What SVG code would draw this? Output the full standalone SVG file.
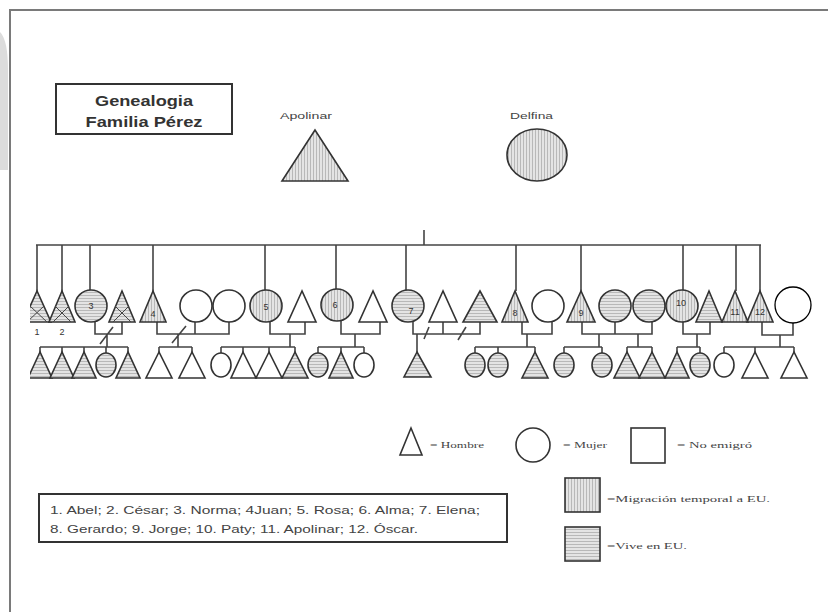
<svg xmlns="http://www.w3.org/2000/svg" width="828" height="612" viewBox="0 0 828 612">
<defs>
<pattern id="vh" width="3" height="3" patternUnits="userSpaceOnUse"><rect width="3" height="3" fill="#e4e4e4"/><line x1="1.5" y1="0" x2="1.5" y2="3" stroke="#9a9a9a" stroke-width="0.6"/></pattern>
<pattern id="hh" width="3" height="3" patternUnits="userSpaceOnUse"><rect width="3" height="3" fill="#e4e4e4"/><line x1="0" y1="1.5" x2="3" y2="1.5" stroke="#9a9a9a" stroke-width="0.6"/></pattern>
<clipPath id="clip"><rect x="30" y="230" width="798" height="170"/></clipPath>
<style>
.s{stroke:#333;stroke-width:1.6;}
.w{fill:#fff;}
.v{fill:url(#vh);}
.h{fill:url(#hh);}
.c{fill:none;stroke:#444;stroke-width:1.6;}
.in{fill:none;stroke:#444;stroke-width:1;}
.n{font-family:"Liberation Sans",Arial,sans-serif;font-size:9px;fill:#333;text-anchor:middle;}
.lab{font-family:"Liberation Sans",Arial,sans-serif;font-size:9px;fill:#444;}
.leg{font-family:"Liberation Serif","Times New Roman",serif;font-size:9px;fill:#444;}
.t{font-family:"Liberation Sans",Arial,sans-serif;font-size:14px;font-weight:bold;fill:#333;text-anchor:middle;}
.nm{font-family:"Liberation Sans",Arial,sans-serif;font-size:10.5px;fill:#444;}
</style>
</defs>
<rect width="828" height="612" fill="#fff"/>
<path d="M0,32 Q8,40 8,70 V170 H0 Z" fill="#dcdcdc"/>
<path d="M10,612 V10 H828" fill="none" stroke="#7a7a7a" stroke-width="2"/>

<g id="title">
<rect x="56" y="84" width="176" height="50" fill="#fff" stroke="#333" stroke-width="2"/>
<text class="t" x="144" y="106" textLength="98" lengthAdjust="spacingAndGlyphs">Genealogia</text>
<text class="t" x="144" y="127" textLength="117" lengthAdjust="spacingAndGlyphs">Familia Pérez</text>
</g>

<g id="apolinar">
<text class="lab" x="280" y="119" textLength="52" lengthAdjust="spacingAndGlyphs">Apolinar</text>
<polygon class="s v" points="315,130 282,181 348,181"/>
</g>
<g id="delfina">
<text class="lab" x="510" y="119" textLength="43" lengthAdjust="spacingAndGlyphs">Delfina</text>
<ellipse class="s v" cx="537" cy="155" rx="30" ry="26"/>
</g>

<g id="connectors" clip-path="url(#clip)">
<path class="c" d="M315,181 V226 H543 V181"/>
<path class="c" d="M424,226 V245"/>
<path class="c" d="M36,245 H761"/>
<path class="c" d="M37,245 V291 M62,245 V291 M90,245 V290 M153,245 V291 M265,245 V290 M336,245 V290 M406,245 V290 M516,245 V291 M581,245 V291 M683,245 V290 M736,245 V291 M760,245 V291"/>
<!-- family A -->
<path class="c" d="M95,321 V334 H122 V322 M107,334 V347 M40,347 H128 M40,347 V352 M62,347 V352 M84,347 V352 M106,347 V353 M128,347 V352 M113,327 L100,344"/>
<!-- family B -->
<path class="c" d="M157,322 V334 H229 V322 M195,322 V334 M178,334 V347 M159,347 H192 M159,347 V352 M192,347 V352 M186,326 L172,343"/>
<!-- family C -->
<path class="c" d="M270,321 V334 H305 V322 M290,334 V347 M221,347 H295 M221,347 V353 M243,347 V352 M269,347 V352 M295,347 V352"/>
<!-- family D -->
<path class="c" d="M341,321 V334 H380 V322 M355,334 V347 M318,347 H364 M318,347 V353 M341,347 V352 M364,347 V353"/>
<!-- family E -->
<path class="c" d="M413,321 V334 H480 V322 M443,322 V334 M417,334 V352 M429,327 L424,339 M466,327 L458,340"/>
<!-- family F -->
<path class="c" d="M522,322 V334 H552 V321 M527,334 V347 M475,347 H535 M475,347 V353 M498,347 V353 M535,347 V352"/>
<!-- family G -->
<path class="c" d="M582,322 V334 H652 V321 M615,322 V334 M599,334 V347 M564,347 H602 M564,347 V353 M602,347 V353 M638,334 V347 M627,347 H652 M627,347 V352 M652,347 V352"/>
<!-- family H -->
<path class="c" d="M683,322 V334 H710 V322 M697,334 V347 M677,347 H700 M677,347 V352 M700,347 V353"/>
<!-- family I -->
<path class="c" d="M762,322 V335 H793 V323 M780,335 V347 M724,347 H794 M724,347 V353 M755,347 V352 M794,347 V352"/>
</g>

<g clip-path="url(#clip)">
<g id="abel"><polygon class="s h" points="37,291 23,322 51,322"/><path class="in" d="M30,306 L47,322 M44,306 L27,322"/><text class="n" x="37" y="335">1</text></g>
<g id="cesar"><polygon class="s h" points="62,291 49,322 75,322"/><path class="in" d="M55,306 L71,322 M69,306 L53,322"/><text class="n" x="62" y="335">2</text></g>
<g id="norma"><circle class="s h" cx="91" cy="306" r="16"/><text class="n" x="91" y="309">3</text></g>
<g id="norma-esposo"><polygon class="s h" points="122,291 109,322 135,322"/><path class="in" d="M115,306 L131,322 M129,306 L113,322"/></g>
<g id="juan"><polygon class="s v" points="153,291 140,322 166,322"/><text class="n" x="153" y="317">4</text></g>
<g id="juan-esposa1"><circle class="s w" cx="196" cy="306" r="16"/></g>
<g id="juan-esposa2"><circle class="s w" cx="229" cy="306" r="16"/></g>
<g id="rosa"><circle class="s v" cx="266" cy="306" r="16"/><text class="n" x="266" y="310">5</text></g>
<g id="rosa-esposo"><polygon class="s w" points="302,291 288,322 316,322"/></g>
<g id="alma"><circle class="s v" cx="337" cy="305" r="16"/><text class="n" x="335" y="308">6</text></g>
<g id="alma-esposo"><polygon class="s w" points="373,291 359,322 387,322"/></g>
<g id="elena"><circle class="s h" cx="408" cy="306" r="16"/><text class="n" x="411" y="314">7</text></g>
<g id="elena-esposo1"><polygon class="s w" points="443,291 429,322 457,322"/></g>
<g id="elena-esposo2"><polygon class="s h" points="480,291 463,322 497,322"/></g>
<g id="gerardo"><polygon class="s v" points="515,291 502,322 528,322"/><text class="n" x="515" y="316">8</text></g>
<g id="gerardo-esposa"><circle class="s w" cx="548" cy="306" r="16"/></g>
<g id="jorge"><polygon class="s v" points="581,291 567,322 595,322"/><text class="n" x="581" y="316">9</text></g>
<g id="jorge-esposa1"><circle class="s h" cx="615" cy="306" r="16"/></g>
<g id="jorge-esposa2"><circle class="s h" cx="649" cy="306" r="16"/></g>
<g id="paty"><circle class="s v" cx="682" cy="306" r="16"/><text class="n" x="681" y="306">10</text></g>
<g id="paty-esposo"><polygon class="s h" points="709,291 696,322 722,322"/></g>
<g id="apolinar-hijo"><polygon class="s v" points="735,291 722,322 748,322"/><text class="n" x="735" y="315">11</text></g>
<g id="oscar"><polygon class="s v" points="760,291 747,322 773,322"/><text class="n" x="760" y="315">12</text></g>
<g id="oscar-esposa"><circle cx="793" cy="305" r="18" fill="#fff" stroke="#000" stroke-width="1.3"/></g>

<!-- third generation -->
<g id="nieto-a1"><polygon class="s h" points="40,352 28,378 52,378"/></g>
<g id="nieto-a2"><polygon class="s h" points="62,352 50,378 74,378"/></g>
<g id="nieto-a3"><polygon class="s h" points="84,352 72,378 96,378"/></g>
<g id="nieto-a4"><ellipse class="s h" cx="106" cy="365" rx="10" ry="12"/></g>
<g id="nieto-a5"><polygon class="s h" points="128,352 116,378 140,378"/></g>
<g id="nieto-b1"><polygon class="s w" points="159,352 146,378 172,378"/></g>
<g id="nieto-b2"><polygon class="s w" points="192,352 179,378 205,378"/></g>
<g id="nieto-c1"><ellipse class="s w" cx="221" cy="365" rx="10" ry="12"/></g>
<g id="nieto-c2"><polygon class="s w" points="243,352 231,378 256,378"/></g>
<g id="nieto-c3"><polygon class="s w" points="269,352 256,378 282,378"/></g>
<g id="nieto-c4"><polygon class="s h" points="295,352 282,378 308,378"/></g>
<g id="nieto-d1"><ellipse class="s h" cx="318" cy="365" rx="10" ry="12"/></g>
<g id="nieto-d2"><polygon class="s h" points="341,352 329,378 353,378"/></g>
<g id="nieto-d3"><ellipse class="s w" cx="364" cy="365" rx="10" ry="12"/></g>
<g id="nieto-e1"><polygon class="s h" points="417,352 404,377 431,377"/></g>
<g id="nieto-f1"><ellipse class="s h" cx="475" cy="365" rx="10" ry="12"/></g>
<g id="nieto-f2"><ellipse class="s h" cx="498" cy="365" rx="10" ry="12"/></g>
<g id="nieto-f3"><polygon class="s h" points="535,352 522,378 548,378"/></g>
<g id="nieto-g1"><ellipse class="s h" cx="564" cy="365" rx="10" ry="12"/></g>
<g id="nieto-g2"><ellipse class="s h" cx="602" cy="365" rx="10" ry="12"/></g>
<g id="nieto-g3"><polygon class="s h" points="627,352 614,378 640,378"/></g>
<g id="nieto-g4"><polygon class="s h" points="652,352 639,378 665,378"/></g>
<g id="nieto-h1"><polygon class="s h" points="677,352 665,378 689,378"/></g>
<g id="nieto-h2"><ellipse class="s h" cx="700" cy="365" rx="10" ry="12"/></g>
<g id="nieto-i1"><ellipse class="s w" cx="724" cy="365" rx="10" ry="12"/></g>
<g id="nieto-i2"><polygon class="s w" points="755,352 742,378 768,378"/></g>
<g id="nieto-i3"><polygon class="s w" points="794,352 781,378 807,378"/></g>
</g>

<g id="leyenda">
<polygon class="s w" points="411,428 400,455 422,455"/>
<text class="leg" x="430" y="448" textLength="54" lengthAdjust="spacingAndGlyphs">= Hombre</text>
<circle class="s w" cx="533" cy="445" r="17"/>
<text class="leg" x="563" y="448" textLength="44" lengthAdjust="spacingAndGlyphs">= Mujer</text>
<rect class="s w" x="631" y="428" width="34" height="35"/>
<text class="leg" x="677" y="448" textLength="75" lengthAdjust="spacingAndGlyphs">= No emigró</text>
<rect class="s v" x="565" y="478" width="35" height="34"/>
<text class="leg" x="607" y="502" textLength="163" lengthAdjust="spacingAndGlyphs">=Migración temporal a EU.</text>
<rect class="s h" x="565" y="527" width="35" height="34"/>
<text class="leg" x="607" y="549" textLength="80" lengthAdjust="spacingAndGlyphs">=Vive en EU.</text>
</g>

<g id="nombres">
<rect x="39" y="494" width="468" height="48" fill="#fff" stroke="#333" stroke-width="2"/>
<text class="nm" x="50" y="514" textLength="430" lengthAdjust="spacingAndGlyphs">1. Abel; 2. César; 3. Norma; 4Juan; 5. Rosa; 6. Alma; 7. Elena;</text>
<text class="nm" x="50" y="533" textLength="368" lengthAdjust="spacingAndGlyphs">8. Gerardo; 9. Jorge; 10. Paty; 11. Apolinar; 12. Óscar.</text>
</g>
</svg>
